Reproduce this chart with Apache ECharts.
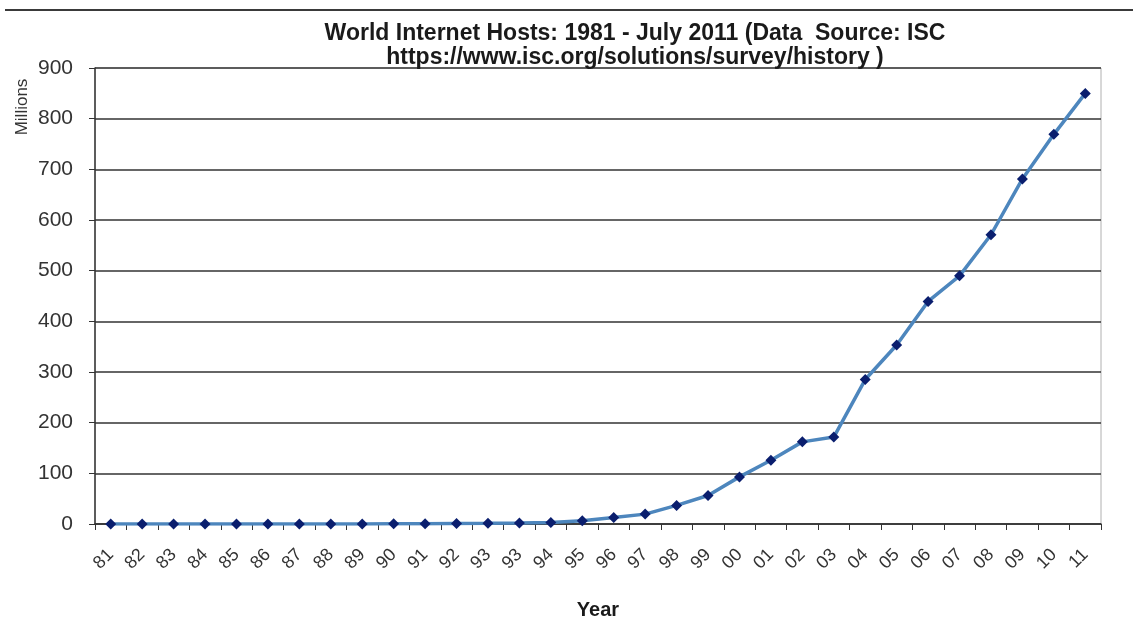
<!DOCTYPE html>
<html>
<head>
<meta charset="utf-8">
<script src="https://cdn.jsdelivr.net/npm/echarts@6/dist/echarts.min.js"></script>
<style>
  html, body { margin: 0; padding: 0; background: #fff; }
  #chart { width: 1133px; height: 621px; }
</style>
</head>
<body>
<div id="chart"></div>
<script>
// Survey years (two-digit), 1993 sampled twice
const years = ['81','82','83','84','85','86','87','88','89','90','91','92','93','93','94','95','96','97','98','99','00','01','02','03','04','05','06','07','08','09','10','11'];
// Internet hosts, millions
const hosts = [0.0002, 0.0002, 0.0006, 0.001, 0.002, 0.005, 0.028, 0.033, 0.13, 0.31, 0.5, 0.99, 1.3, 2.2, 3.2, 6.6, 12.9, 19.5, 36.7, 56.2, 93.0, 125.9, 162.1, 171.6, 285.1, 353.3, 439.3, 489.8, 570.9, 681.1, 769.1, 849.9];
// Value axis ticks
const yTicks = { min: 0, max: 900, step: 100 };

const font = '"Liberation Sans", Arial, sans-serif';
const chart = echarts.init(document.getElementById('chart'));
chart.setOption({
  backgroundColor: '#ffffff',
  animation: false,
  title: {
    text: 'World Internet Hosts: 1981 - July 2011 (Data  Source: ISC\nhttps://www.isc.org/solutions/survey/history )',
    left: 630,
    top: 17,
    textAlign: 'center',
    textStyle: { fontFamily: font, fontSize: 23, fontWeight: 'bold', color: '#1a1a1a', lineHeight: 24 }
  },
  graphic: [
    { type: 'line', shape: { x1: 5, y1: 10, x2: 1133, y2: 10 }, style: { stroke: '#3a3a3a', lineWidth: 2 } },
    {
      type: 'text', x: 22, y: 107, rotation: Math.PI / 2,
      style: { text: 'Millions', font: '17px ' + font, fill: '#333', align: 'center', verticalAlign: 'middle' }
    }
  ],
  grid: {
    left: 95, right: 32, top: 68, bottom: 97,
    outerBoundsMode: 'none', containLabel: false,
    show: true, borderColor: '#b0b0b0', borderWidth: 1
  },
  xAxis: {
    type: 'category',
    data: years,
    boundaryGap: true,
    name: 'Year',
    nameLocation: 'middle',
    nameGap: 76,
    nameTextStyle: { fontFamily: font, fontSize: 20, fontWeight: 'bold', color: '#1a1a1a' },
    axisLine: { lineStyle: { color: '#333', width: 1.5 } },
    axisTick: { show: true, alignWithLabel: false, length: 6, lineStyle: { color: '#333' } },
    axisLabel: { interval: 0, rotate: 45, fontFamily: font, fontSize: 18, color: '#333', margin: 28 },
    splitLine: { show: false }
  },
  yAxis: {
    type: 'value',
    min: yTicks.min,
    max: yTicks.max,
    interval: yTicks.step,
    axisLine: { show: true, lineStyle: { color: '#333', width: 1.5 } },
    axisTick: { show: true, length: 6, lineStyle: { color: '#333' } },
    axisLabel: { fontFamily: font, fontSize: 21, color: '#333', margin: 22 },
    splitLine: { show: true, lineStyle: { color: '#333', width: 1.5 } }
  },
  series: [{
    type: 'line',
    data: hosts,
    symbol: 'diamond',
    symbolSize: 11,
    itemStyle: { color: '#0a1e6e' },
    lineStyle: { color: '#4d86bd', width: 3.5 },
    z: 3
  }]
});
</script>
</body>
</html>
